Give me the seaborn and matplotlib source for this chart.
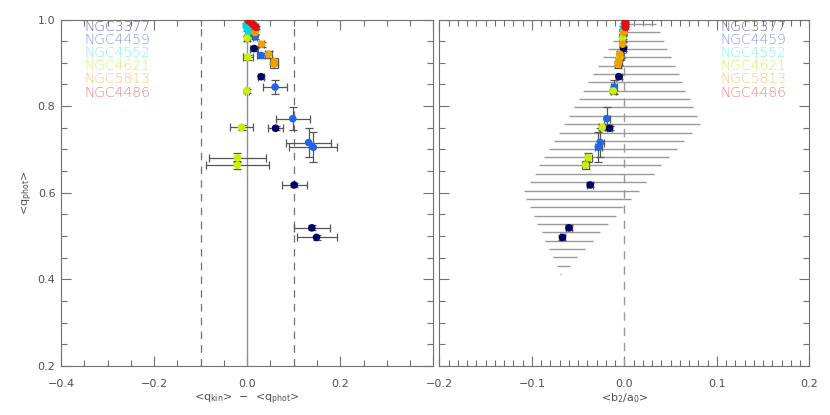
import matplotlib
matplotlib.use('Agg')
import matplotlib.pyplot as plt
from matplotlib.ticker import MultipleLocator
import pandas as pd
import seaborn as sns

# galaxy names and colours (markers / labels)
galaxies = ['NGC3377', 'NGC4459', 'NGC4552', 'NGC4621', 'NGC5813', 'NGC4486']
point_colors = ['#000066', '#2266ee', '#00d8e0', '#c8f000', '#f0a000', '#e01010']
label_colors = ['#6868a8', '#8098f0', '#80f0f0', '#d0f060', '#ffc070', '#f08080']

# one entry per point
galaxy = (['NGC3377'] * 6 + ['NGC4459'] * 6 + ['NGC4552'] * 3 +
          ['NGC4621'] * 6 + ['NGC5813'] * 5 + ['NGC4486'] * 5)
q_phot = [0.933, 0.868, 0.749, 0.618, 0.519, 0.497,
          0.960, 0.917, 0.844, 0.771, 0.716, 0.705,
          0.987, 0.979, 0.972,
          0.957, 0.913, 0.835, 0.751, 0.681, 0.664,
          0.970, 0.943, 0.920, 0.903, 0.897,
          0.998, 0.994, 0.990, 0.986, 0.982]
q_phot_err = [0.006, 0.005, 0.005, 0.005, 0.006, 0.006,
              0.006, 0.006, 0.016, 0.027, 0.034, 0.035,
              0.005, 0.005, 0.005,
              0.006, 0.006, 0.005, 0.006, 0.010, 0.010,
              0.006, 0.006, 0.008, 0.008, 0.008,
              0.004, 0.004, 0.004, 0.004, 0.004]
dq = [0.015, 0.030, 0.061, 0.101, 0.139, 0.149,
      0.017, 0.030, 0.060, 0.098, 0.132, 0.142,
      -0.002, 0.000, 0.003,
      0.000, 0.001, -0.001, -0.012, -0.021, -0.021,
      0.017, 0.031, 0.046, 0.058, 0.058,
      0.002, 0.007, 0.011, 0.015, 0.019]
dq_err = [0.008, 0.006, 0.016, 0.027, 0.039, 0.043,
          0.005, 0.008, 0.025, 0.037, 0.048, 0.052,
          0.004, 0.004, 0.004,
          0.006, 0.011, 0.004, 0.024, 0.062, 0.067,
          0.005, 0.006, 0.008, 0.008, 0.008,
          0.004, 0.004, 0.004, 0.004, 0.004]
b2a0 = [-0.001, -0.006, -0.016, -0.037, -0.060, -0.067,
        -0.002, -0.004, -0.011, -0.019, -0.026, -0.028,
        0.000, -0.001, -0.001,
        -0.002, -0.005, -0.012, -0.024, -0.039, -0.042,
        -0.001, -0.002, -0.005, -0.006, -0.007,
        0.001, 0.001, 0.001, 0.001, 0.001]
b2a0_err = [0.003, 0.003, 0.003, 0.003, 0.003, 0.003,
            0.003, 0.003, 0.003, 0.003, 0.004, 0.004,
            0.002, 0.002, 0.002,
            0.003, 0.003, 0.003, 0.003, 0.004, 0.004,
            0.003, 0.003, 0.003, 0.003, 0.003,
            0.002, 0.002, 0.002, 0.002, 0.002]

# range of b2/a0 per q level (horizontal bars, right panel)
band_q = [0.990, 0.970, 0.951, 0.932, 0.913, 0.893, 0.874, 0.855, 0.836, 0.816,
          0.797, 0.778, 0.759, 0.739, 0.720, 0.701, 0.682, 0.663, 0.643, 0.624,
          0.605, 0.586, 0.566, 0.547, 0.528, 0.509, 0.489, 0.470, 0.451, 0.432,
          0.413]
band_lo = [0.004, -0.005, -0.012, -0.018, -0.023, -0.029, -0.034, -0.039, -0.045, -0.049,
           -0.055, -0.060, -0.065, -0.071, -0.076, -0.082, -0.087, -0.092, -0.097, -0.102,
           -0.108, -0.106, -0.102, -0.098, -0.094, -0.089, -0.086, -0.082, -0.077, -0.073,
           -0.070]
band_hi = [0.034, 0.038, 0.043, 0.046, 0.050, 0.055, 0.059, 0.062, 0.066, 0.071,
           0.074, 0.078, 0.082, 0.073, 0.064, 0.057, 0.048, 0.039, 0.032, 0.023,
           0.016, 0.007, -0.002, -0.009, -0.018, -0.026, -0.034, -0.043, -0.051, -0.059,
           -0.068]

# tick labels
left_xticks = [-0.4, -0.2, 0.0, 0.2]
left_xlabels = ['\u22120.4', '\u22120.2', '0.0', '0.2']
right_xticks = [-0.2, -0.1, 0.0, 0.1, 0.2]
right_xlabels = ['\u22120.2', '\u22120.1', '0.0', '0.1', '0.2']
yticks = [0.2, 0.4, 0.6, 0.8, 1.0]
ylabels = ['0.2', '0.4', '0.6', '0.8', '1.0']

df = pd.DataFrame({'galaxy': galaxy, 'q_phot': q_phot, 'q_phot_err': q_phot_err,
                   'dq': dq, 'dq_err': dq_err, 'b2a0': b2a0, 'b2a0_err': b2a0_err})
palette = dict(zip(galaxies, point_colors))

sns.set_style('ticks')
plt.rcParams['font.family'] = ['DejaVu Sans']
grey = '#707070'
plt.rcParams.update({'axes.edgecolor': grey, 'xtick.color': grey, 'ytick.color': grey,
                     'xtick.labelcolor': '#505050', 'ytick.labelcolor': '#505050',
                     'axes.labelcolor': '#505050', 'axes.linewidth': 0.8})

fig = plt.figure(figsize=(8.3, 4.15), dpi=100)
ax1 = fig.add_axes([0.0735, 0.118, 0.4486, 0.835])
ax2 = fig.add_axes([0.5293, 0.118, 0.446, 0.835])

# left panel
ax1.axvline(0, color='#909090', lw=1, zorder=1)
for xv in (-0.1, 0.1):
    ax1.axvline(xv, color=grey, lw=0.9, ls=(0, (6, 5)), zorder=1)
ax1.errorbar(df['dq'], df['q_phot'], xerr=df['dq_err'], yerr=df['q_phot_err'],
             fmt='none', ecolor='#555555', elinewidth=0.9, capsize=3, capthick=0.9, zorder=2)
sns.scatterplot(data=df, x='dq', y='q_phot', hue='galaxy', palette=palette, s=30,
                edgecolor='none', legend=False, ax=ax1, zorder=3)

# right panel
ax2.hlines(band_q, band_lo, band_hi, color='#999999', lw=1.0, zorder=1)
ax2.axvline(0, color='#999999', lw=1.0, ls=(0, (6, 5)), zorder=1)
ax2.errorbar(df['b2a0'], df['q_phot'], xerr=df['b2a0_err'], yerr=df['q_phot_err'],
             fmt='none', ecolor='#555555', elinewidth=0.9, capsize=3, capthick=0.9, zorder=2)
sns.scatterplot(data=df, x='b2a0', y='q_phot', hue='galaxy', palette=palette, s=30,
                edgecolor='none', legend=False, ax=ax2, zorder=3)

for ax, (x0, x1), minor in ((ax1, (-0.4, 0.4), 0.05), (ax2, (-0.2, 0.2), 0.01)):
    ax.set_xlim(x0, x1)
    ax.set_ylim(0.2, 1.0)
    ax.xaxis.set_minor_locator(MultipleLocator(minor))
    ax.yaxis.set_minor_locator(MultipleLocator(0.05))
    ax.set_yticks(yticks)
    ax.tick_params(which='both', direction='in', top=True, right=True, labelsize=8)
    ax.tick_params(axis='x', which='both', pad=9)
    ax.tick_params(axis='y', which='both', pad=4)
    ax.tick_params(which='major', length=7, width=0.8)
    ax.tick_params(which='minor', length=4, width=0.8)
    for sp in ax.spines.values():
        sp.set_visible(True)

ax1.set_xticks(left_xticks + [0.4])
ax1.set_xticklabels(left_xlabels + [''])
ax1.set_yticklabels(ylabels)
ax2.set_xticks(right_xticks)
ax2.set_xticklabels(right_xlabels)
ax2.tick_params(labelleft=False)

ax1.set_xlabel('<q$_{\\rm kin}$>  \u2212  <q$_{\\rm phot}$>', fontsize=8, labelpad=2)
ax1.set_ylabel('<q$_{\\rm phot}$>', fontsize=8, labelpad=2)
ax2.set_xlabel('<b$_2$/a$_0$>', fontsize=8, labelpad=2)
ax2.set_ylabel('')

# galaxy labels
for ax, xpos in ((ax1, 0.064), (ax2, 0.758)):
    for i, (name, col) in enumerate(zip(galaxies, label_colors)):
        ax.text(xpos, 0.979 - i * 0.038, name, color=col, fontsize=10,
                fontweight='light', transform=ax.transAxes, va='center', ha='left')

fig.savefig('out.png', dpi=100)
